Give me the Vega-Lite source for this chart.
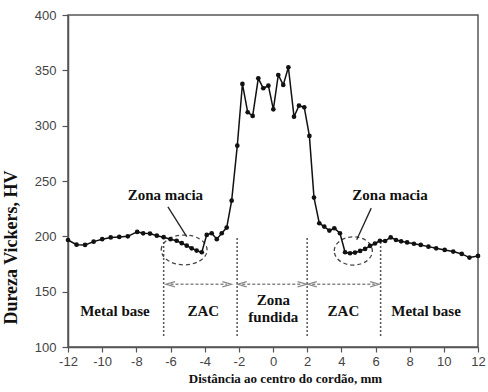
{
  "$schema": "https://vega.github.io/schema/vega-lite/v6.json",
  "width": 410,
  "height": 332,
  "autosize": {"type": "none"},
  "padding": {"left": 68, "top": 15, "right": 10, "bottom": 45},
  "background": "white",
  "config": {
    "view": {"stroke": "#555", "strokeWidth": 1.5},
    "axis": {"grid": false, "domainColor": "#555", "domainWidth": 1.5, "tickColor": "#555", "tickWidth": 1.2,
      "labelFont": "Liberation Sans", "labelFontSize": 13, "labelColor": "#444", "labelOverlap": false,
      "titleFont": "Liberation Serif", "titleFontWeight": "bold", "titleColor": "#111"}
  },
  "datasets": {
    "hv": [
      {"d": -12.0, "hv": 196.7}, {"d": -11.5, "hv": 192.5}, {"d": -11.0, "hv": 192.2}, {"d": -10.5, "hv": 195.2},
      {"d": -10.0, "hv": 197.4}, {"d": -9.5, "hv": 199.0}, {"d": -9.0, "hv": 199.5}, {"d": -8.5, "hv": 200.0},
      {"d": -7.95, "hv": 204.0}, {"d": -7.6, "hv": 202.7}, {"d": -7.2, "hv": 202.5}, {"d": -6.8, "hv": 200.6},
      {"d": -6.4, "hv": 199.2}, {"d": -6.0, "hv": 197.4}, {"d": -5.64, "hv": 196.0}, {"d": -5.34, "hv": 193.8},
      {"d": -5.05, "hv": 191.6}, {"d": -4.76, "hv": 189.2}, {"d": -4.47, "hv": 187.1}, {"d": -4.17, "hv": 185.6},
      {"d": -3.88, "hv": 201.3}, {"d": -3.59, "hv": 202.8}, {"d": -3.29, "hv": 197.4}, {"d": -3.0, "hv": 202.8},
      {"d": -2.71, "hv": 207.9}, {"d": -2.42, "hv": 232.2}, {"d": -2.09, "hv": 281.9}, {"d": -1.79, "hv": 337.7},
      {"d": -1.48, "hv": 312.1}, {"d": -1.19, "hv": 308.8}, {"d": -0.86, "hv": 342.8}, {"d": -0.57, "hv": 333.8},
      {"d": -0.27, "hv": 336.1}, {"d": 0.02, "hv": 314.8}, {"d": 0.31, "hv": 345.8}, {"d": 0.6, "hv": 336.8},
      {"d": 0.9, "hv": 352.8}, {"d": 1.23, "hv": 308.1}, {"d": 1.52, "hv": 318.1}, {"d": 1.83, "hv": 316.6},
      {"d": 2.13, "hv": 290.7}, {"d": 2.4, "hv": 235.0}, {"d": 2.71, "hv": 211.8}, {"d": 3.0, "hv": 208.8},
      {"d": 3.3, "hv": 205.2}, {"d": 3.59, "hv": 207.3}, {"d": 3.92, "hv": 202.8}, {"d": 4.22, "hv": 185.6},
      {"d": 4.51, "hv": 184.7}, {"d": 4.8, "hv": 185.3}, {"d": 5.1, "hv": 186.8}, {"d": 5.39, "hv": 188.6},
      {"d": 5.68, "hv": 191.3}, {"d": 5.97, "hv": 193.5}, {"d": 6.26, "hv": 196.0}, {"d": 6.56, "hv": 195.8},
      {"d": 6.89, "hv": 199.0}, {"d": 7.2, "hv": 196.7}, {"d": 7.5, "hv": 195.5}, {"d": 7.85, "hv": 194.5},
      {"d": 8.25, "hv": 193.3}, {"d": 8.65, "hv": 192.2}, {"d": 9.1, "hv": 190.7}, {"d": 9.55, "hv": 189.2},
      {"d": 10.05, "hv": 187.7}, {"d": 10.55, "hv": 186.2}, {"d": 11.05, "hv": 184.1}, {"d": 11.5, "hv": 180.8},
      {"d": 12.0, "hv": 182.3}
    ],
    "limits": [{"d": -6.4, "lo": 110, "hi": 197}, {"d": -2.1, "lo": 110, "hi": 200}, {"d": 2.0, "lo": 110, "hi": 200}, {"d": 6.3, "lo": 110, "hi": 197}],
    "arrows": [{"a": -6.0, "b": -2.7, "y": 156.7}, {"a": -1.8, "b": 1.7, "y": 156.7}, {"a": 2.3, "b": 5.95, "y": 156.7}],
    "leaders": [{"x1": -6.15, "y1": 226.6, "x2": -5.05, "y2": 199.7}, {"x1": 5.75, "y1": 225.5, "x2": 4.9, "y2": 197.0}],
    "ellipses": [{"d": -5.2, "hv": 187.7, "zone": "left"}, {"d": 4.7, "hv": 186.8, "zone": "right"}],
    "labels": [
      {"d": -9.25, "hv": 132.6, "t": "Metal base"},
      {"d": -4.08, "hv": 132.6, "t": "ZAC"},
      {"d": 0.02, "hv": 142.5, "t": "Zona"},
      {"d": 0.02, "hv": 127.5, "t": "fundida"},
      {"d": 4.12, "hv": 132.6, "t": "ZAC"},
      {"d": 8.96, "hv": 132.6, "t": "Metal base"},
      {"d": -6.3, "hv": 237.4, "t": "Zona macia"},
      {"d": 6.85, "hv": 237.4, "t": "Zona macia"}
    ]
  },
  "encoding": {
    "x": {"field": "d", "type": "quantitative", "scale": {"domain": [-12, 12], "nice": false},
      "axis": {"values": [-12, -10, -8, -6, -4, -2, 0, 2, 4, 6, 8, 10, 12], "tickCount": 30, "tickSize": 5, "labelPadding": 3,
        "labelOverlap": false, "labelFlush": false, "labelExpr": "'' + datum.value",
        "title": "Distância ao centro do cordão, mm", "titleFontSize": 13, "titlePadding": 4, "titleX": 217}},
    "y": {"field": "hv", "type": "quantitative", "scale": {"domain": [100, 400], "nice": false},
      "axis": {"values": [100, 150, 200, 250, 300, 350, 400], "tickCount": 20, "tickSize": 6, "labelPadding": 6,
        "labelOverlap": false, "labelFlush": false,
        "title": "Dureza Vickers, HV", "titleFontSize": 18, "titlePadding": 14, "titleY": 232}}
  },
  "layer": [
    {
      "data": {"name": "limits"},
      "mark": {"type": "rule", "color": "#555", "strokeWidth": 1.5, "strokeDash": [2, 2]},
      "encoding": {
        "y": {"field": "lo", "type": "quantitative"},
        "y2": {"field": "hi"}
      }
    },
    {
      "data": {"name": "arrows"},
      "mark": {"type": "rule", "color": "#888", "strokeWidth": 1.3, "strokeDash": [3, 2]},
      "encoding": {
        "x": {"field": "a", "type": "quantitative"},
        "x2": {"field": "b"},
        "y": {"field": "y", "type": "quantitative"}
      }
    },
    {
      "data": {"name": "arrows"},
      "mark": {"type": "point", "shape": "M1,-0.6L-1,0L1,0.6", "filled": false, "color": "#888", "strokeWidth": 1.3, "size": 80, "opacity": 1},
      "encoding": {
        "x": {"field": "a", "type": "quantitative"},
        "y": {"field": "y", "type": "quantitative"}
      }
    },
    {
      "data": {"name": "arrows"},
      "mark": {"type": "point", "shape": "M-1,-0.6L1,0L-1,0.6", "filled": false, "color": "#888", "strokeWidth": 1.3, "size": 80, "opacity": 1},
      "encoding": {
        "x": {"field": "b", "type": "quantitative"},
        "y": {"field": "y", "type": "quantitative"}
      }
    },
    {
      "data": {"name": "ellipses"},
      "transform": [{"filter": "datum.zone === 'left'"}],
      "mark": {"type": "point", "shape": "M-1,0C-1,-0.36,-0.552,-0.65,0,-0.65C0.552,-0.65,1,-0.36,1,0C1,0.36,0.552,0.65,0,0.65C-0.552,0.65,-1,0.36,-1,0Z", "filled": false, "color": "#444", "strokeWidth": 1.3, "strokeDash": [4, 3], "size": 2100, "opacity": 1}
    },
    {
      "data": {"name": "ellipses"},
      "transform": [{"filter": "datum.zone === 'right'"}],
      "mark": {"type": "point", "shape": "M-1,0C-1,-0.41,-0.552,-0.74,0,-0.74C0.552,-0.74,1,-0.41,1,0C1,0.41,0.552,0.74,0,0.74C-0.552,0.74,-1,0.41,-1,0Z", "filled": false, "color": "#444", "strokeWidth": 1.3, "strokeDash": [4, 3], "size": 1450, "opacity": 1}
    },
    {
      "data": {"name": "leaders"},
      "mark": {"type": "rule", "color": "#222", "strokeWidth": 1.3},
      "encoding": {
        "x": {"field": "x1", "type": "quantitative"},
        "y": {"field": "y1", "type": "quantitative"},
        "x2": {"field": "x2"},
        "y2": {"field": "y2"}
      }
    },
    {
      "data": {"name": "hv"},
      "mark": {"type": "line", "color": "#111", "strokeWidth": 1.5}
    },
    {
      "data": {"name": "hv"},
      "mark": {"type": "point", "filled": true, "color": "#111", "size": 22, "opacity": 1}
    },
    {
      "data": {"name": "labels"},
      "mark": {"type": "text", "font": "Liberation Serif", "fontWeight": "bold", "fontSize": 15, "color": "#111", "align": "center", "baseline": "middle"},
      "encoding": {
        "text": {"field": "t"}
      }
    }
  ]
}
